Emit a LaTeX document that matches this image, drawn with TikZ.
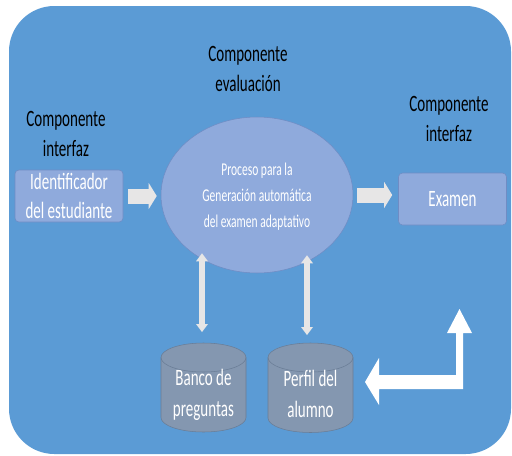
\documentclass[tikz,border=0pt]{standalone}
\usepackage{fontspec}
\setmainfont{Carlito}[FakeStretch=0.64]
\usetikzlibrary{arrows.meta,shapes.geometric}
\definecolor{bgblue}{HTML}{5B9BD5}
\definecolor{boxblue}{HTML}{8FAADC}
\definecolor{boxline}{HTML}{6F8CC4}
\definecolor{cylgray}{HTML}{8497B0}
\definecolor{cylline}{HTML}{6A7D96}
\definecolor{arrowgray}{HTML}{E7E6E6}

\begin{document}
\begin{tikzpicture}[x=0.75pt,y=-0.75pt,
  comp/.style={align=center,text=black,font=\fontsize{17.6}{23}\selectfont},
  compbox/.style={draw=boxline,fill=boxblue,rounded corners=3pt,minimum width=81pt,minimum height=39pt,inner sep=0pt,align=center,text=white,font=\fontsize{17.6}{22}\selectfont},
  dbbody/.style={draw=cylline,fill=cylgray},
  dbtext/.style={align=center,text=white,inner sep=0pt,font=\fontsize{17.6}{23}\selectfont},
  fatarrow/.style={arrowgray,line width=11.25pt,-{Triangle[length=6pt,width=19.5pt,line width=0pt]}},
  dblarrow/.style={arrowgray,line width=4.5pt,{Triangle[length=6pt,width=9pt,line width=0pt]}-{Triangle[length=6pt,width=9pt,line width=0pt]}}]
  \useasboundingbox (0,0) rectangle (512,455);
  \fill[bgblue,rounded corners=34pt] (9,6) rectangle (511,454);
  \node[comp] (evallab) at (248,69) {Componente\\evaluación};
  \node[comp] (inlab) at (66,134) {Componente\\interfaz};
  \node[comp] (outlab) at (449,119) {Componente\\interfaz};
  \node[compbox] (ident) at (69,196) {Identificador\\del estudiante};
  \node[ellipse,draw=boxline,fill=boxblue,minimum width=144pt,minimum height=117pt,inner sep=0pt,align=center,text=white,font=\fontsize{13.5}{19.5}\selectfont] (proc) at (257,195) {};
  \node[align=center,text=white,font=\fontsize{13.5}{19.5}\selectfont] (proctext) at (257,197) {Proceso para la\\Generación automática\\del examen adaptativo};
  \node[compbox] (exam) at (452.5,199) {Examen};
  \filldraw[dbbody] (161,357.5) -- (161,417.5) arc[start angle=180,end angle=0,x radius=42.5,y radius=14.5] -- (246,357.5) arc[start angle=0,end angle=-180,x radius=42.5,y radius=14.5] -- cycle;
  \draw[cylline] (161,357.5) arc[start angle=180,end angle=0,x radius=42.5,y radius=14.5];
  \filldraw[dbbody] (268,357.5) -- (268,418) arc[start angle=180,end angle=0,x radius=42.5,y radius=14.5] -- (353,357.5) arc[start angle=0,end angle=-180,x radius=42.5,y radius=14.5] -- cycle;
  \draw[cylline] (268,357.5) arc[start angle=180,end angle=0,x radius=42.5,y radius=14.5];
  \coordinate (bancotop) at (202,343);
  \coordinate (perfiltop) at (307,343);
  \node[dbtext] (banco) at (203.5,395) {Banco de\\preguntas};
  \node[dbtext] (perfil) at (310.5,394) {Perfil del\\alumno};
  \draw[fatarrow] ([xshift=3.75pt]ident.east) -- ([xshift=-3pt]ident.east -| proc.west);
  \draw[fatarrow] ([xshift=3pt]proc.east) -- ([xshift=-4.5pt]proc.east -| exam.west);
  \draw[dblarrow] ([yshift=8.25pt]bancotop) -- ([yshift=15pt]bancotop |- proc.south);
  \draw[dblarrow] ([yshift=6pt]perfiltop) -- ([yshift=13.5pt]perfiltop |- proc.south);
  \fill[white] (365,382) -- (379,358) -- (379,375) -- (456,375) -- (456,333) -- (447,333) -- (459.5,309) -- (472,333) -- (463,333) -- (463,389) -- (379,389) -- (379,405) -- cycle;
\end{tikzpicture}
\end{document}
